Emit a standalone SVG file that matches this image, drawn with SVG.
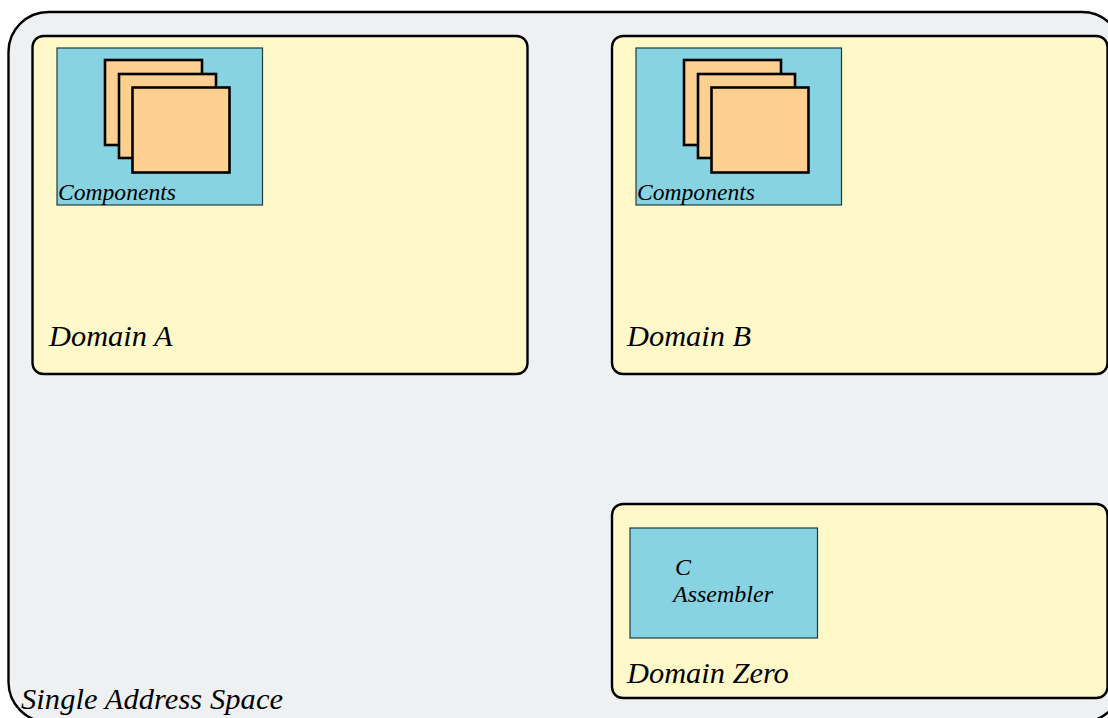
<svg xmlns="http://www.w3.org/2000/svg" width="1108" height="718" viewBox="0 0 1108 718">
<style>
.outer{fill:#eff0f2;stroke:#000;stroke-width:2.4}
.domain{fill:#fff9c9;stroke:#000;stroke-width:2.4}
.blue{fill:#87d3e2;stroke:#1f3b42;stroke-width:1.2}
.comp{fill:#fdd092;stroke:#000;stroke-width:2.6}
text{font-family:"Liberation Serif","Times New Roman",serif;font-style:italic;fill:#000}
.big{font-size:30.400px}
.small{font-size:23.600px}
.asm{font-size:24px}
</style>
<rect width="1108" height="718" fill="#fff"/>
<g id="address-space">
<rect class="outer" x="8.500" y="12" width="1113.500" height="710" rx="40" ry="40"/>
<text class="big" x="21" y="709" textLength="262">Single Address Space</text>
</g>
<g id="domain-a">
<rect class="domain" x="32.500" y="36" width="495" height="338" rx="11" ry="11"/>
<text class="big" x="49" y="346">Domain A</text>
</g>
<g id="components-a">
<rect class="blue" x="57" y="48" width="205.500" height="157"/>
<rect class="comp" x="105" y="60" width="97" height="85"/>
<rect class="comp" x="119" y="74" width="97" height="84"/>
<rect class="comp" x="132.500" y="87.500" width="97" height="85"/>
<text class="small" x="58" y="200">Components</text>
</g>
<g id="domain-b">
<rect class="domain" x="612" y="36" width="495.500" height="338" rx="11" ry="11"/>
<text class="big" x="627" y="346">Domain B</text>
</g>
<g id="components-b">
<rect class="blue" x="636" y="48" width="205.500" height="157"/>
<rect class="comp" x="684" y="60" width="97" height="85"/>
<rect class="comp" x="698" y="74" width="97" height="84"/>
<rect class="comp" x="711.500" y="87.500" width="97" height="85"/>
<text class="small" x="637" y="200">Components</text>
</g>
<g id="domain-zero">
<rect class="domain" x="612" y="504" width="495.500" height="194" rx="11" ry="11"/>
<text class="big" x="627" y="683">Domain Zero</text>
</g>
<g id="c-assembler">
<rect class="blue" x="630" y="528" width="187.500" height="110"/>
<text class="asm" x="675" y="575">C</text>
<text class="asm" x="673" y="602">Assembler</text>
</g>
<g id="connectors"></g>
</svg>
